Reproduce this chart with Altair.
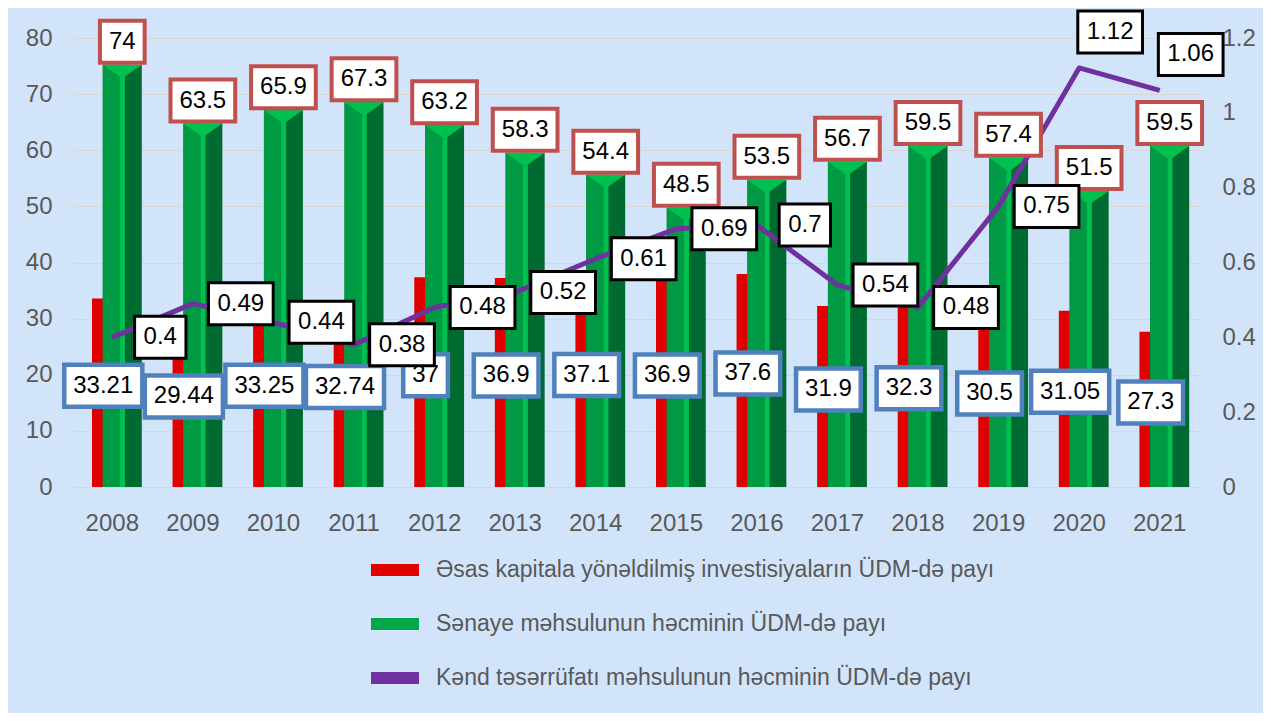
import altair as alt
import pandas as pd

years = [str(y) for y in range(2008, 2022)]
invest = [33.21, 29.44, 33.25, 32.74, 37, 36.9, 37.1, 36.9, 37.6, 31.9, 32.3, 30.5, 31.05, 27.3]
industry = [74, 63.5, 65.9, 67.3, 63.2, 58.3, 54.4, 48.5, 53.5, 56.7, 59.5, 57.4, 51.5, 59.5]
agri = [0.4, 0.49, 0.44, 0.38, 0.48, 0.52, 0.61, 0.69, 0.7, 0.54, 0.48, 0.75, 1.12, 1.06]
series_names = [
    "Əsas kapitala yönəldilmiş investisiyaların ÜDM-də payı",
    "Sənaye məhsulunun həcminin  ÜDM-də payı",
    "Kənd təsərrüfatı məhsulunun həcminin ÜDM-də payı",
]
left_ticks = [0, 10, 20, 30, 40, 50, 60, 70, 80]
right_ticks = [0, 0.2, 0.4, 0.6, 0.8, 1.0, 1.2]

df = pd.DataFrame({
    "year": years,
    "invest": invest,
    "industry": industry,
    "agri": agri,
    "s": [series_names[2]] * len(years),
})

FONT = "Liberation Sans"
AX = "#595959"
LBL = 24
RED, GREEN_D, GREEN_M, GREEN_L, PURPLE = "#E00000", "#006B30", "#009A44", "#00C050", "#7030A0"


def wexpr(f):
    s = f"toString(datum.{f})"
    dot = f"(indexof({s}, '.') >= 0 ? 1 : 0)"
    return f"(length({s}) - {dot}) * {0.556 * LBL} + {dot} * {0.278 * LBL} + 18"


base = alt.Chart(df).transform_calculate(
    w_ind=wexpr("industry"), w_inv=wexpr("invest"), w_agr=wexpr("agri"),
    inv_mid="datum.invest / 2",
)

X = alt.X(
    "year:N", title=None,
    scale=alt.Scale(paddingInner=0, paddingOuter=0),
    axis=alt.Axis(labelAngle=0, domain=False, ticks=False, labelPadding=24,
                  labelFontSize=24, labelColor=AX, labelFont=FONT),
)


def YL(f, axis=None):
    return alt.Y(f"{f}:Q", title=None, axis=axis,
                 scale=alt.Scale(domain=[0, 80], nice=False, zero=True))


def YR(f, axis=None):
    return alt.Y(f"{f}:Q", title=None, axis=axis,
                 scale=alt.Scale(domain=[0, 1.2], nice=False, zero=True))


left_axis = alt.Axis(orient="left", values=left_ticks, grid=True, gridColor="#DAD6D0",
                     gridWidth=1.2, domain=False, ticks=False, labelPadding=20,
                     labelFontSize=24, labelColor=AX, labelFont=FONT)
right_axis = alt.Axis(orient="right", values=right_ticks, format=".1~f", grid=False,
                      domain=False, ticks=False, labelPadding=22,
                      labelFontSize=24, labelColor=AX, labelFont=FONT)

Y0 = alt.datum(0)

red_bar = base.mark_bar(color=RED, size=11, xOffset=-14.8, yOffset=-2).encode(
    x=X, y=YL("invest", left_axis), y2=Y0)
green_dark = base.mark_bar(color=GREEN_D, size=39, xOffset=10, yOffset=-7).encode(
    x=X, y=YL("industry"), y2=Y0)
green_mid = base.mark_bar(color=GREEN_M, size=17.2, xOffset=-0.9, yOffset=-7).encode(
    x=X, y=YL("industry"), y2=Y0)
green_str = base.mark_bar(color=GREEN_L, size=5, xOffset=10.2, yOffset=-7).encode(
    x=X, y=YL("industry"), y2=Y0)
green_top = base.mark_point(shape="M-1,0L1,0L0,0.7Z", size=39 * 39, filled=True, color=GREEN_L,
                            opacity=1, strokeWidth=0, xOffset=10, yOffset=-7).encode(
    x=X, y=YL("industry"))

line = base.mark_line(strokeWidth=5, strokeJoin="round").encode(
    x=X, y=YR("agri", right_axis),
    color=alt.Color("s:N", scale=alt.Scale(domain=series_names, range=[RED, "#00A84A", PURPLE]),
                    legend=alt.Legend(title=None, orient="none", legendX=293, legendY=502,
                                      direction="vertical", symbolType="stroke", symbolSize=2304,
                                      symbolStrokeWidth=12, labelFontSize=23, labelFont=FONT,
                                      labelColor=AX, labelLimit=900, rowPadding=0, labelOffset=11)),
)

# industry labels (red-bordered boxes above the green bars)
box_ind = base.mark_bar(fill="white", stroke="#C0504D", strokeWidth=4, xOffset=10,
                        yOffset=-51, y2Offset=-9).encode(
    x=X, y=YL("industry"), y2=alt.Y2("industry"), size=alt.Size("w_ind:Q", scale=None, legend=None))
txt_ind = base.mark_text(font=FONT, fontSize=LBL, color="black", dx=10, dy=-30, baseline="middle").encode(
    x=X, y=YL("industry"), text=alt.Text("industry:Q"))

# investment labels (blue-bordered boxes, placed around the middle of the red bars)
box_inv = base.mark_bar(fill="white", stroke="#4F81BD", strokeWidth=4.5, xOffset=-9,
                        yOffset=-29, y2Offset=13).encode(
    x=X, y=YL("inv_mid"), y2=alt.Y2("inv_mid"), size=alt.Size("w_inv:Q", scale=None, legend=None))
txt_inv = base.mark_text(font=FONT, fontSize=LBL, color="black", dx=-9, dy=-8, baseline="middle").encode(
    x=X, y=YL("inv_mid"), text=alt.Text("invest:Q"))

# agriculture labels (black boxes)
low = base.transform_filter("datum.agri < 1")
high = base.transform_filter("datum.agri >= 1")
box_agr = low.mark_bar(fill="white", stroke="black", strokeWidth=3, xOffset=48,
                       yOffset=-21, y2Offset=21).encode(
    x=X, y=YR("agri"), y2=alt.Y2("agri"), size=alt.Size("w_agr:Q", scale=None, legend=None))
txt_agr = low.mark_text(font=FONT, fontSize=LBL, color="black", dx=48, dy=0, baseline="middle").encode(
    x=X, y=YR("agri"), text=alt.Text("agri:Q"))
box_agr2 = high.mark_bar(fill="white", stroke="black", strokeWidth=3, xOffset=31,
                         yOffset=-57, y2Offset=-15).encode(
    x=X, y=YR("agri"), y2=alt.Y2("agri"), size=alt.Size("w_agr:Q", scale=None, legend=None))
txt_agr2 = high.mark_text(font=FONT, fontSize=LBL, color="black", dx=31, dy=-36, baseline="middle").encode(
    x=X, y=YR("agri"), text=alt.Text("agri:Q"))

chart = alt.layer(
    red_bar, green_dark, green_mid, green_str, green_top, line,
    box_ind, txt_ind, box_inv, txt_inv, box_agr, txt_agr, box_agr2, txt_agr2,
).resolve_scale(y="independent").properties(
    width=1128, height=449,
    autosize=alt.AutoSizeParams(type="none"),
    padding={"left": 64, "top": 30, "right": 63, "bottom": 226},
    background="#D2E4FA",
).configure_view(stroke=None)

chart.save("out.html", embed_options={"renderer": "svg", "actions": False})
